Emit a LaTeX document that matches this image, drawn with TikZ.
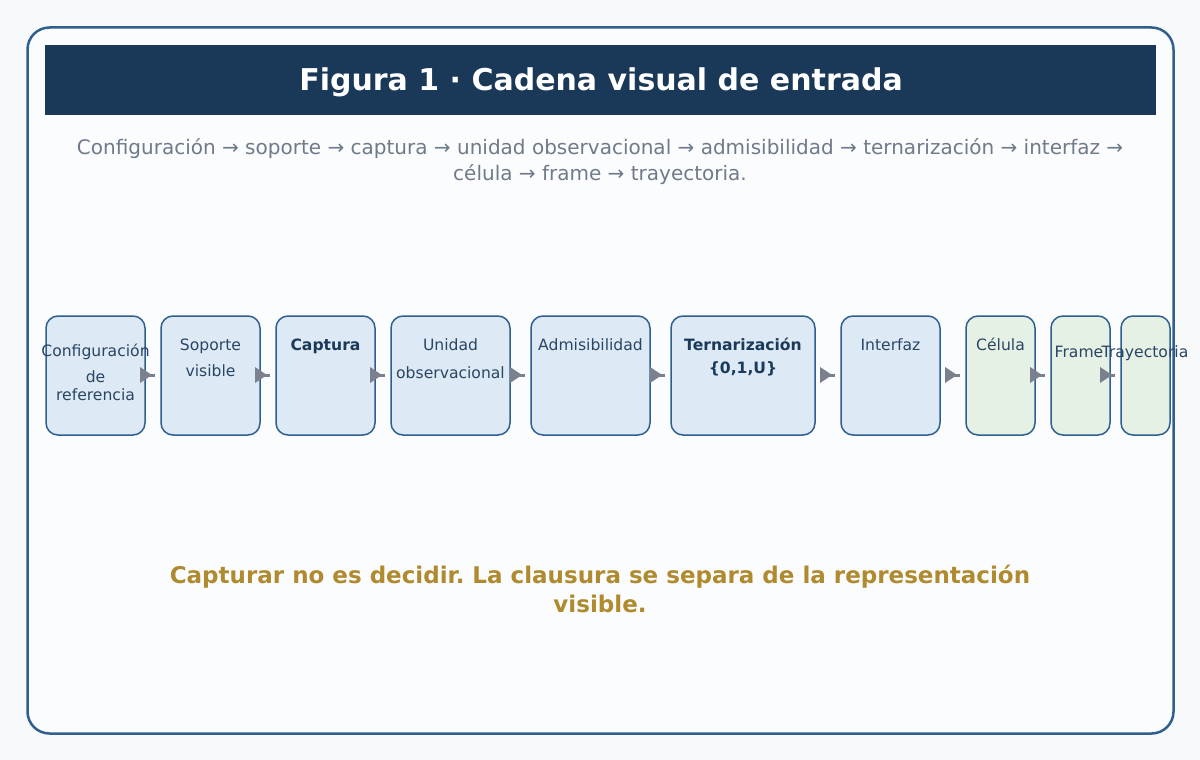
\documentclass[tikz,border=0pt]{standalone}
\usepackage{fontspec}
\setmainfont{DejaVu Sans}
\usetikzlibrary{arrows.meta}
\frenchspacing
\definecolor{pagebg}{HTML}{F7F9FB}
\definecolor{framefill}{HTML}{FBFCFE}
\definecolor{framedraw}{HTML}{2F5F8F}
\definecolor{titlebg}{HTML}{1A3857}
\definecolor{subgray}{HTML}{6F7A8A}
\definecolor{boxblue}{HTML}{DDEAF6}
\definecolor{boxgreen}{HTML}{E5F1E4}
\definecolor{boxdraw}{HTML}{2F5F8F}
\definecolor{boxtext}{HTML}{2A4564}
\definecolor{boxbold}{HTML}{1B3A5A}
\definecolor{arrgray}{HTML}{7A808E}
\definecolor{gold}{HTML}{B08A2E}
\tikzset{
  stagebox/.style={draw=boxdraw, line width=1.5pt, rounded corners=12pt, fill=boxblue, inner sep=0pt},
  stagegreen/.style={stagebox, fill=boxgreen},
  lbl/.style={anchor=base, inner sep=0pt, text=boxtext, font=\fontsize{15.6}{18}\selectfont},
  lblb/.style={lbl, text=boxbold, font=\fontsize{15.6}{18}\selectfont\bfseries},
  connline/.style={draw=arrgray, line width=3pt},
  conntip/.style={fill=arrgray},
}
\newcommand{\conn}[2]{%
  \draw[connline] (#1) -- (#2);
  \fill[conntip] (#1) ++(0,-8) -- ++(12,8) -- ++(-12,8) -- cycle;}
\begin{document}
\begin{tikzpicture}[x=1pt,y=-1pt]
\useasboundingbox (0,0) rectangle (1200,760);
\fill[pagebg] (0,0) rectangle (1200,760);
\draw[framedraw, fill=framefill, line width=2.5pt, rounded corners=22pt] (27.5,27.5) rectangle (1173.5,733.5);
\node[fill=titlebg, minimum width=1111pt, minimum height=70pt, inner sep=0pt, anchor=north west] (title) at (45,45) {};
\node[anchor=base, inner sep=0pt, text=white, font=\fontsize{30}{36}\selectfont\bfseries] (titletext) at (601,90) {Figura 1 · Cadena visual de entrada};
\node[anchor=base, inner sep=0pt, text=subgray, font=\fontsize{20}{24}\selectfont] (sub1) at (600,154) {Configuración → soporte → captura → unidad observacional → admisibilidad → ternarización → interfaz →};
\node[anchor=base, inner sep=0pt, text=subgray, font=\fontsize{20}{24}\selectfont] (sub2) at (600,180) {célula → frame → trayectoria.};
% boxes
\node[stagebox, minimum width=99pt, minimum height=119pt] (n1) at (95.5,375.5) {};
\node[stagebox, minimum width=99pt, minimum height=119pt] (n2) at (210.5,375.5) {};
\node[stagebox, minimum width=99pt, minimum height=119pt] (n3) at (325.5,375.5) {};
\node[stagebox, minimum width=119pt, minimum height=119pt] (n4) at (450.5,375.5) {};
\node[stagebox, minimum width=119pt, minimum height=119pt] (n5) at (590.5,375.5) {};
\node[stagebox, minimum width=144pt, minimum height=119pt] (n6) at (743,375.5) {};
\node[stagebox, minimum width=99pt, minimum height=119pt] (n7) at (890.5,375.5) {};
\node[stagegreen, minimum width=69pt, minimum height=119pt] (n8) at (1000.5,375.5) {};
\node[stagegreen, minimum width=59pt, minimum height=119pt] (n9) at (1080.5,375.5) {};
\node[stagegreen, minimum width=49pt, minimum height=119pt] (n10) at (1145.5,375.5) {};
% labels
\node[lbl] (l1a) at (95.5,356) {Configuración};
\node[lbl] (l1b) at (95.5,382) {de};
\node[lbl] (l1c) at (95.5,400) {referencia};
\node[lbl] (l2a) at (210.5,350) {Soporte};
\node[lbl] (l2b) at (210.5,376) {visible};
\node[lblb] (l3a) at (325.5,350) {Captura};
\node[lbl] (l4a) at (450.5,350) {Unidad};
\node[lbl] (l4b) at (450.5,378) {observacional};
\node[lbl] (l5a) at (590.5,350) {Admisibilidad};
\node[lblb] (l6a) at (743,350) {Ternarización};
\node[lblb] (l6b) at (743,373) {\{0,1,U\}};
\node[lbl] (l7a) at (890.5,350) {Interfaz};
\node[lbl] (l8a) at (1000.5,350) {Célula};
\node[lbl] (l9a) at (1079,357) {Frame};
\node[lbl] (l10a) at (1145,357) {Trayectoria};
% connectors
\coordinate (a1s) at (140,375); \coordinate (a1e) at (155,375);
\coordinate (a2s) at (255,375); \coordinate (a2e) at (270,375);
\coordinate (a3s) at (370,375); \coordinate (a3e) at (385,375);
\coordinate (a4s) at (510,375); \coordinate (a4e) at (525,375);
\coordinate (a5s) at (650,375); \coordinate (a5e) at (665,375);
\coordinate (a6s) at (820,375); \coordinate (a6e) at (835,375);
\coordinate (a7s) at (945,375); \coordinate (a7e) at (960,375);
\coordinate (a8s) at (1030,375); \coordinate (a8e) at (1045,375);
\coordinate (a9s) at (1100,375); \coordinate (a9e) at (1115,375);
\conn{a1s}{a1e}
\conn{a2s}{a2e}
\conn{a3s}{a3e}
\conn{a4s}{a4e}
\conn{a5s}{a5e}
\conn{a6s}{a6e}
\conn{a7s}{a7e}
\conn{a8s}{a8e}
\conn{a9s}{a9e}
% bottom message
\node[anchor=base, inner sep=0pt, text=gold, font=\fontsize{23}{27}\selectfont\bfseries] (msg1) at (600,583) {Capturar no es decidir. La clausura se separa de la representación};
\node[anchor=base, inner sep=0pt, text=gold, font=\fontsize{23}{27}\selectfont\bfseries] (msg2) at (600,612) {visible.};
\end{tikzpicture}
\end{document}
